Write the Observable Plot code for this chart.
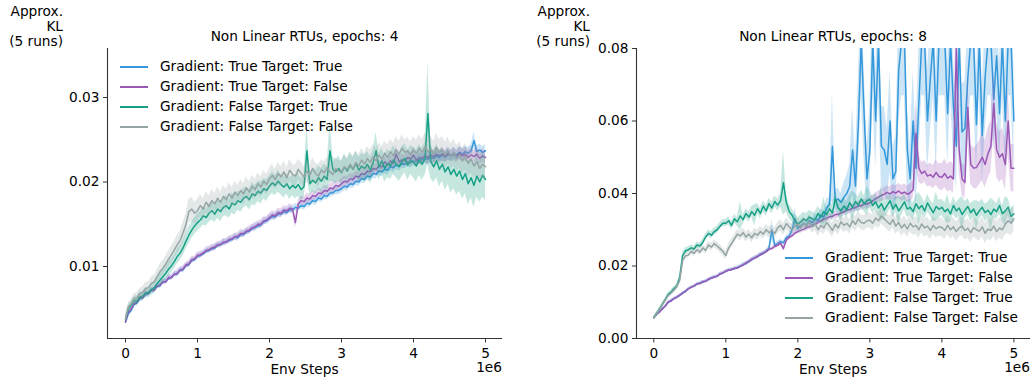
<!DOCTYPE html>
<html><head><meta charset="utf-8">
<script src="https://cdn.jsdelivr.net/npm/d3@7"></script>
<script src="https://cdn.jsdelivr.net/npm/@observablehq/plot@0.6"></script>
<style>
body{margin:0;background:#fff;font-family:"DejaVu Sans",sans-serif;}
#root{position:relative;width:1033px;height:381px;overflow:hidden;background:#fff;}
#root svg{position:absolute;top:0;}
.t{position:absolute;font-size:13.7px;color:#000;white-space:nowrap;line-height:15px;font-family:"DejaVu Sans",sans-serif;}
.sw{position:absolute;height:2px;width:28px;}
</style></head><body><div id="root"></div>
<script>
// values in units of 1e-4 (Approx. KL); one point every 40,000 env steps (0 .. 5e6)
const UNIT = 1e-4;
const STEP = 40000;
const seriesNames = ["Gradient: True Target: True","Gradient: True Target: False","Gradient: False Target: True","Gradient: False Target: False"];
const seriesColors = ["#3498db","#9b59b6","#16a085","#95a5a6"];
const titles = ["Non Linear RTUs, epochs: 4","Non Linear RTUs, epochs: 8"];
const yLabelLines = ["Approx.","KL","(5 runs)"];
const xLabel = "Env Steps";
const xOffsetLabel = "1e6";
const xTicks = [0,1e6,2e6,3e6,4e6,5e6];
const yTicksLeft = [0.01,0.02,0.03];
const yTicksRight = [0,0.02,0.04,0.06,0.08];

// ---- epochs: 4 ----
const L_blue = [34,44,48,55,57,62,63,67,68,72,72,77,77,82,82,86,87,91,91,96,96,101,102,107,108,
112,113,115,118,119,121,122,125,126,128,129,131,132,135,134,138,138,141,142,145,146,148,149,153,154,
157,159,159,162,162,165,164,167,167,170,169,172,171,175,174,178,177,181,180,184,183,187,187,190,190,
192,195,194,198,197,201,200,204,203,207,206,210,209,213,212,215,214,218,217,220,219,222,221,224,223,
225,224,227,226,228,227,229,228,231,229,232,230,233,231,234,232,235,233,236,234,237,249,236,238,235,237];
const L_purple = [35,46,50,56,58,63,63,68,68,72,72,77,78,82,82,87,87,91,92,96,97,102,103,108,109,
113,114,116,119,120,122,123,126,126,129,129,132,133,135,136,139,139,142,143,146,147,150,150,154,155,
158,161,160,164,163,167,166,169,168,152,174,178,177,181,180,184,183,187,186,190,189,193,192,196,195,
198,201,200,204,203,207,206,210,209,213,212,216,215,219,218,224,220,225,222,233,224,226,225,229,227,
232,226,229,228,231,229,232,230,233,231,233,230,234,231,233,230,234,231,233,229,232,230,233,228,231,229];
const L_green = [38,50,54,60,59,64,65,69,69,73,75,80,84,88,92,97,101,106,112,116,122,130,137,143,148,
152,155,160,158,163,166,162,168,165,170,172,168,175,173,178,176,181,183,179,186,184,189,187,192,190,
195,199,196,201,197,194,198,192,196,193,197,191,195,237,198,202,199,205,201,207,203,237,215,212,216,
211,218,213,220,215,222,214,219,216,221,214,223,237,218,225,216,222,219,226,221,218,224,228,220,226,
223,219,226,221,228,281,224,218,225,215,221,212,218,209,215,207,213,203,210,198,205,196,207,200,208,203];
const L_gray = [38,52,56,62,63,68,69,74,75,80,82,88,94,98,103,109,114,120,126,131,140,150,165,168,163,
166,172,168,176,171,178,174,181,176,183,179,186,181,188,184,190,186,193,188,195,191,198,194,201,197,
204,208,203,210,206,212,205,214,209,207,215,210,206,213,208,216,210,207,214,211,217,212,209,216,213,
212,218,215,221,216,223,219,226,221,228,223,230,225,232,227,234,229,236,231,238,233,240,235,237,232,
238,234,240,235,242,236,239,233,241,235,238,232,237,230,235,228,232,225,230,222,227,219,224,216,221,218];
const L_blue_sd = [2,2,2,2,2,2,2,3,3,3,3,3,3,3,3,3,3,3,3,3,3,3,3,3,3,
3,3,3,3,3,3,4,3,3,4,3,4,3,4,4,3,4,4,3,4,4,4,3,4,4,
4,4,4,4,4,4,4,4,4,5,4,4,4,5,4,4,5,4,4,5,4,5,4,5,5,
5,5,5,5,5,5,5,5,5,5,5,6,5,5,6,5,6,5,6,5,6,6,5,6,6,
6,6,6,6,6,7,6,6,7,6,7,6,7,6,7,6,7,7,6,7,7,10,7,7,7,7];
const L_purple_sd = [2,2,2,2,3,3,3,3,3,3,3,3,3,3,3,4,3,3,4,3,4,3,4,4,3,
4,4,3,4,4,4,4,4,4,4,4,4,4,4,4,5,4,4,5,4,5,4,5,5,4,
5,5,5,5,5,5,5,5,5,7,5,5,5,6,5,6,5,6,5,6,6,5,6,6,6,
6,6,6,6,6,6,6,7,6,6,7,6,7,6,7,7,6,7,8,10,7,7,7,8,7,
9,7,8,7,8,7,8,7,8,7,8,7,8,7,8,7,8,7,8,7,8,7,8,7,8,8];
const L_green_sd = [4,5,5,5,6,6,6,6,6,7,7,7,7,8,8,8,8,8,9,9,9,10,10,10,10,
10,10,11,10,11,11,10,11,12,11,12,11,12,12,11,12,12,11,12,13,12,12,13,12,13,
12,13,12,13,12,13,12,13,12,13,14,13,14,30,14,13,14,14,15,14,15,36,15,14,15,
14,15,14,15,15,14,15,15,16,15,16,15,22,16,15,16,17,16,17,16,17,18,17,18,17,
18,19,18,19,20,60,20,19,20,21,20,22,21,22,23,22,24,23,24,25,24,26,25,24,26,25];
const L_gray_sd = [4,5,5,6,6,6,7,7,7,8,8,8,9,9,9,10,10,10,11,11,12,12,14,14,13,
13,13,12,13,12,13,12,13,12,13,12,13,12,13,12,13,12,13,12,13,12,13,12,13,12,
12,13,12,13,12,13,12,13,12,13,12,13,12,13,12,13,12,13,12,13,12,13,12,13,12,
13,14,13,14,13,14,13,14,13,14,15,14,15,14,15,14,15,14,15,16,15,16,15,16,15,
16,15,16,15,16,15,16,15,16,15,16,15,16,15,16,15,16,15,16,15,16,15,16,15,16,15];

// ---- epochs: 8 ----
const R_blue = [57,66,74,81,90,99,105,109,115,118,126,129,137,142,144,150,153,155,159,162,167,170,171,178,180,
186,188,191,192,196,199,204,206,213,217,223,225,233,234,241,249,300,256,262,268,264,278,282,300,330,
305,310,318,312,325,320,330,325,340,335,360,370,530,380,385,375,390,400,420,520,420,590,820,620,440,
520,820,600,820,530,520,480,600,440,460,740,820,820,520,440,600,470,650,820,820,600,720,820,600,820,
820,820,620,820,640,530,820,570,580,720,820,820,590,820,560,720,820,820,660,780,620,820,600,820,820,600];
const R_purple = [57,67,73,83,89,101,103,111,113,120,124,131,137,141,145,151,151,157,157,164,166,169,172,178,181,
185,189,189,194,194,199,202,209,211,219,221,227,230,236,239,246,248,254,257,263,248,271,279,283,291,
295,299,301,306,308,313,315,321,324,330,331,336,337,342,342,347,349,354,355,360,361,366,366,371,371,
375,380,386,390,395,398,403,399,405,401,407,400,404,398,402,410,566,470,455,462,448,452,445,458,447,
445,455,442,448,440,800,520,440,430,637,480,470,472,485,500,480,510,530,648,520,500,510,480,600,470,470];
const R_green = [58,70,82,95,108,122,128,138,145,168,228,242,245,250,247,258,255,265,280,290,285,295,300,310,318,
318,325,312,330,322,338,328,345,335,350,340,358,345,365,352,372,360,378,368,380,430,375,350,340,325,
315,322,330,325,335,330,328,345,335,350,342,358,346,385,360,352,366,355,375,362,378,368,385,372,380,
384,367,377,360,372,354,367,380,357,370,352,364,377,357,362,350,372,358,367,352,374,360,347,364,357,
362,350,357,344,367,352,360,342,354,364,347,357,340,352,362,347,354,342,357,350,367,344,352,362,337,344];
const R_gray = [58,68,80,93,105,118,125,133,142,160,215,228,230,240,235,245,238,250,243,258,252,262,255,248,240,
229,250,262,275,288,283,292,280,288,278,290,285,295,288,300,292,298,290,305,312,300,317,308,300,310,
315,305,318,310,322,308,316,300,312,305,320,310,298,315,305,322,312,318,308,325,315,330,320,318,325,
326,318,332,325,338,330,322,315,328,310,320,305,315,302,318,308,312,300,316,305,310,298,312,303,308,
306,298,312,300,308,295,305,310,298,304,292,306,300,296,308,290,302,298,310,295,305,300,315,325,318,330];
const R_blue_sd = [2,2,2,2,3,3,3,3,3,3,3,3,3,3,3,3,4,4,4,4,4,4,4,4,4,
4,4,4,4,4,5,5,5,5,5,5,5,5,5,5,6,30,6,6,6,6,7,8,15,30,
15,10,12,12,15,12,15,12,18,15,25,20,150,30,30,25,40,50,60,120,80,130,150,130,90,
120,150,130,150,110,120,100,140,90,100,150,150,150,120,90,140,100,150,150,150,140,150,150,140,150,
150,150,140,150,140,120,150,130,130,150,150,150,130,150,130,150,150,150,140,150,140,150,140,150,150,140];
const R_purple_sd = [2,2,2,2,2,3,3,3,3,3,3,3,3,3,3,3,3,3,3,3,4,4,4,4,4,
4,4,4,4,4,4,4,4,5,5,5,5,5,5,5,5,5,6,6,6,8,6,6,6,7,
7,7,7,7,8,8,8,8,8,9,9,9,10,10,10,10,11,11,12,12,12,13,13,14,14,
15,15,16,16,17,18,18,19,20,20,21,22,22,23,24,25,90,40,30,30,30,32,32,35,35,
38,40,38,40,40,200,60,45,45,90,55,55,60,60,65,65,70,70,90,75,70,70,70,90,65,65];
const R_green_sd = [2,3,3,4,4,5,5,5,6,8,10,8,8,8,8,8,8,9,9,9,10,10,10,10,10,
10,11,11,12,12,40,13,13,14,14,30,14,15,15,15,15,16,16,16,18,90,25,20,18,18,
18,18,18,20,18,18,20,20,18,40,20,20,22,22,20,30,22,22,22,45,22,22,24,22,40,
22,24,22,24,50,22,24,22,24,22,40,24,22,24,22,24,22,45,24,22,24,22,24,40,24,
22,24,40,22,24,22,24,50,24,22,24,22,40,24,22,24,22,45,24,22,24,22,40,24,22,24];
const R_gray_sd = [2,3,3,4,4,4,5,5,5,6,8,8,8,8,9,9,9,10,10,10,10,10,11,11,11,
11,12,12,12,12,13,13,13,13,14,14,14,14,14,15,15,15,15,15,16,16,16,16,16,17,
17,17,17,17,18,18,18,18,18,18,19,19,19,19,19,20,20,20,20,20,20,21,21,21,21,
21,21,22,22,22,22,22,22,23,23,23,23,23,23,24,24,24,24,24,24,25,25,25,25,25,
25,25,25,26,26,26,26,26,26,27,27,27,27,27,27,28,28,28,28,28,28,30,30,35,35,35];

function rowsFor(vals, sds, name) {
  const n = Math.min(vals.length, sds.length);
  const out = [];
  for (let i = 0; i < n; i++) {
    out.push({x: i * STEP, y: vals[i] * UNIT, y1: (vals[i] - sds[i]) * UNIT, y2: (vals[i] + sds[i]) * UNIT, s: name});
  }
  return out;
}

function panel(vals, sds, o) {
  const marks = [];
  seriesNames.forEach((name, k) => {
    const rows = rowsFor(vals[k], sds[k], name);
    marks.push(Plot.areaY(rows, {x: "x", y1: "y1", y2: "y2", fill: seriesColors[k], fillOpacity: 0.25, clip: true}));
    marks.push(Plot.lineY(rows, {x: "x", y: "y", stroke: seriesColors[k], strokeWidth: 1.5, clip: true}));
  });
  marks.push(Plot.axisX({ticks: xTicks, tickFormat: d => String(d / 1e6), tickSize: 4.5, tickPadding: 5, label: null, stroke: "#333"}));
  marks.push(Plot.axisY({ticks: o.yTicks, tickFormat: d3.format(".2f"), tickSize: 4, tickPadding: 4, label: null, stroke: "#333"}));
  marks.push(Plot.ruleX([o.xDomain[0]], {stroke: "#333", strokeWidth: 1.1}));
  marks.push(Plot.ruleY([o.yDomain[0]], {stroke: "#333", strokeWidth: 1.1}));
  const svg = Plot.plot({
    width: o.width, height: 381,
    marginLeft: o.ml, marginRight: o.mr, marginTop: 48, marginBottom: 43,
    style: {fontFamily: "DejaVu Sans", fontSize: "13.7px", color: "#000", background: "transparent"},
    x: {domain: o.xDomain},
    y: {domain: o.yDomain},
    marks
  });
  svg.style.left = o.left + "px";
  return svg;
}

const root = document.getElementById("root");
root.appendChild(panel([L_blue, L_purple, L_green, L_gray], [L_blue_sd, L_purple_sd, L_green_sd, L_gray_sd],
  {left: 0, width: 520, ml: 107, mr: 18, xDomain: [-0.25e6, 5.236e6], yDomain: [0.00148, 0.0358], yTicks: yTicksLeft}));
root.appendChild(panel([R_blue, R_purple, R_green, R_gray], [R_blue_sd, R_purple_sd, R_green_sd, R_gray_sd],
  {left: 520, width: 513, ml: 116, mr: 3, xDomain: [-0.24e6, 5.23e6], yDomain: [0, 0.08], yTicks: yTicksRight}));

function addText(txt, css) {
  const d = document.createElement("div");
  d.className = "t";
  d.textContent = txt;
  Object.assign(d.style, css);
  root.appendChild(d);
  return d;
}
const panels = [
  {axL: 107, axR: 502, yLabRight: 63, legX: 120, legY: 66.7},
  {axL: 636, axR: 1030, yLabRight: 590, legX: 785, legY: 257.7}
];
panels.forEach((p, k) => {
  const yl = document.createElement("div");
  yl.className = "t";
  Object.assign(yl.style, {left: (p.yLabRight - 80) + "px", width: "80px", top: "4px", textAlign: "right"});
  yLabelLines.forEach((s, j) => {
    if (j) yl.appendChild(document.createElement("br"));
    yl.appendChild(document.createTextNode(s));
  });
  root.appendChild(yl);
  addText(titles[k], {left: p.axL + "px", width: (p.axR - p.axL) + "px", top: "29px", textAlign: "center"});
  addText(xLabel, {left: p.axL + "px", width: (p.axR - p.axL) + "px", top: "362px", textAlign: "center"});
  addText(xOffsetLabel, {left: (p.axR - 60) + "px", width: "60px", top: "360px", textAlign: "right"});
  seriesNames.forEach((name, i) => {
    const cy = p.legY + i * 20;
    const sw = document.createElement("div");
    sw.className = "sw";
    Object.assign(sw.style, {left: p.legX + "px", top: (cy - 1) + "px", background: seriesColors[i]});
    root.appendChild(sw);
    addText(name, {left: (p.legX + 40) + "px", top: (cy - 7.5) + "px"});
  });
});
</script>
</body></html>
